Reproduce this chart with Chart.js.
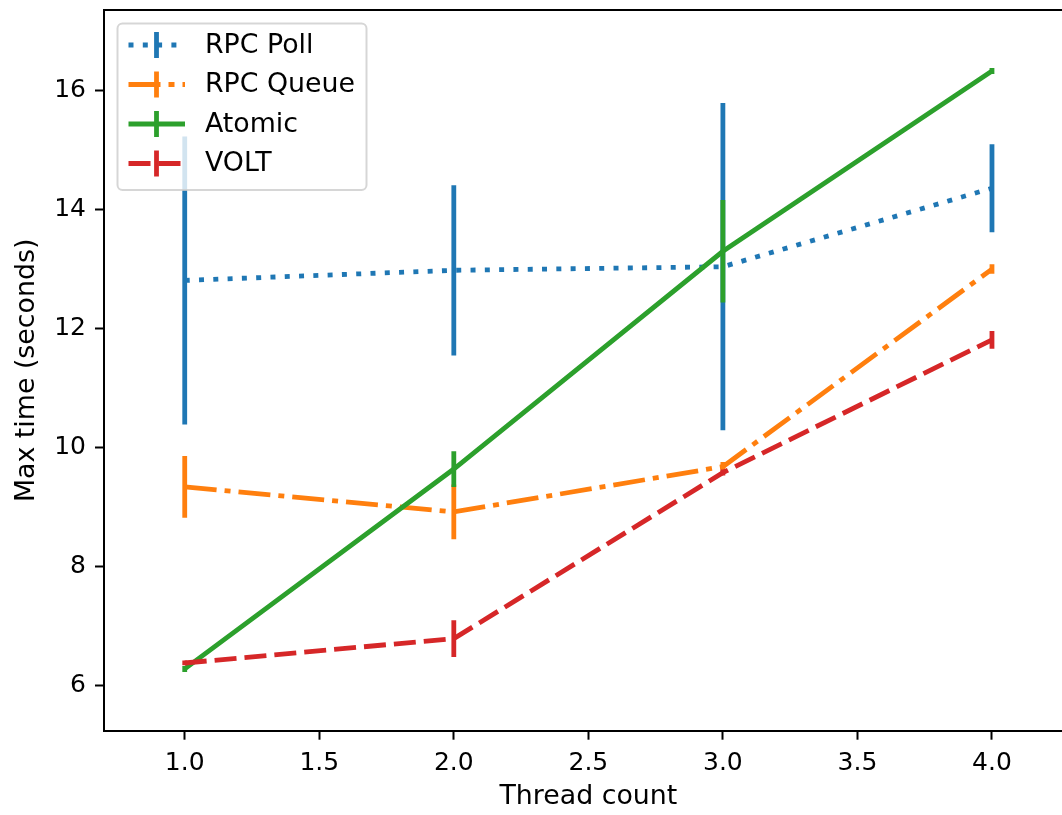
<!DOCTYPE html>
<html>
<head>
<meta charset="utf-8">
<script src="https://cdn.jsdelivr.net/npm/chart.js@4.4.0/dist/chart.umd.min.js"></script>
<style>
  html, body { margin: 0; padding: 0; overflow: hidden; background: #fff; }
  canvas { display: block; }
</style>
</head>
<body>
<canvas id="chart" width="1075" height="815"></canvas>
<script>
// values
const threadCounts = [1, 2, 3, 4];
const seriesNames = ['RPC Poll', 'RPC Queue', 'Atomic', 'VOLT'];

const pollTimes = [12.8, 12.97, 13.03, 14.35];
const pollErrors = [2.42, 1.43, 2.75, 0.74];
const queueTimes = [9.33, 8.91, 9.67, 12.99];
const queueErrors = [0.52, 0.46, 0.08, 0.08];
const atomicTimes = [6.27, 9.63, 13.29, 16.32];
const atomicErrors = [0.05, 0.3, 0.86, 0.05];
const voltTimes = [6.37, 6.78, 9.57, 11.8];
const voltErrors = [0.04, 0.31, 0.05, 0.15];

const xTicks = [1.0, 1.5, 2.0, 2.5, 3.0, 3.5, 4.0];
const yTicks = [6, 8, 10, 12, 14, 16];

const colors = ['#1f77b4', '#ff7f0e', '#2ca02c', '#d62728'];
const dashes = [[5, 9.3], [32, 8, 6, 8], [], [22, 8]];
const LW = 4.8;

Chart.defaults.font.family = "'DejaVu Sans', sans-serif";
Chart.defaults.color = '#000';

function makeSeries(idx, times, errs) {
  return {
    label: seriesNames[idx],
    data: threadCounts.map((t, i) => ({ x: t, y: times[i] })),
    errors: errs,
    borderColor: colors[idx],
    backgroundColor: colors[idx],
    borderWidth: LW,
    borderDash: dashes[idx],
    borderCapStyle: 'butt',
    pointRadius: 0,
    tension: 0,
    fill: false,
    order: 3 - idx // matplotlib draws later series on top
  };
}

const errorBarPlugin = {
  id: 'errorBars',
  afterDatasetDraw(chart, args) {
    const ds = chart.data.datasets[args.index];
    if (!ds.errors) return;
    const { ctx, chartArea, scales: { x, y } } = chart;
    ctx.save();
    ctx.beginPath();
    ctx.rect(chartArea.left, chartArea.top, chartArea.right - chartArea.left, chartArea.bottom - chartArea.top);
    ctx.clip();
    ctx.strokeStyle = ds.borderColor;
    ctx.lineWidth = LW;
    ctx.setLineDash([]);
    ctx.lineCap = 'butt';
    ds.data.forEach((p, i) => {
      const px = x.getPixelForValue(p.x);
      ctx.beginPath();
      ctx.moveTo(px, y.getPixelForValue(p.y - ds.errors[i]));
      ctx.lineTo(px, y.getPixelForValue(p.y + ds.errors[i]));
      ctx.stroke();
    });
    ctx.restore();
  }
};

// top spine + matplotlib style legend box
const framePlugin = {
  id: 'frame',
  afterDraw(chart) {
    const { ctx, chartArea } = chart;
    ctx.save();
    ctx.strokeStyle = '#000';
    ctx.lineWidth = 2;
    ctx.beginPath();
    ctx.moveTo(chartArea.left - 1, chartArea.top);
    ctx.lineTo(chartArea.right + 1, chartArea.top);
    ctx.stroke();

    const bx = 117.5, by = 23.5, bw = 249, bh = 166.5, r = 5;
    ctx.beginPath();
    ctx.moveTo(bx + r, by);
    ctx.arcTo(bx + bw, by, bx + bw, by + bh, r);
    ctx.arcTo(bx + bw, by + bh, bx, by + bh, r);
    ctx.arcTo(bx, by + bh, bx, by, r);
    ctx.arcTo(bx, by, bx + bw, by, r);
    ctx.closePath();
    ctx.fillStyle = 'rgba(255,255,255,0.8)';
    ctx.fill();
    ctx.strokeStyle = 'rgba(204,204,204,0.8)';
    ctx.lineWidth = 2;
    ctx.stroke();

    const rows = [45, 84.5, 124, 163.5];
    ctx.font = "26.8px 'DejaVu Sans'";
    ctx.textBaseline = 'middle';
    ctx.textAlign = 'left';
    chart.data.datasets.forEach((ds, i) => {
      const yy = rows[i];
      ctx.strokeStyle = ds.borderColor;
      ctx.lineWidth = LW;
      ctx.lineCap = 'butt';
      ctx.setLineDash(ds.borderDash);
      ctx.beginPath();
      ctx.moveTo(128.5, yy);
      ctx.lineTo(185, yy);
      ctx.stroke();
      ctx.setLineDash([]);
      ctx.beginPath();
      ctx.moveTo(156.5, yy - 13);
      ctx.lineTo(156.5, yy + 13);
      ctx.stroke();
      ctx.fillStyle = '#000';
      ctx.fillText(ds.label, 205, yy + 1);
    });
    ctx.restore();
  }
};

function noEdgePadding(s) {
  s.paddingTop = 0;
  s.paddingBottom = 0;
  s.paddingLeft = 0;
  s.paddingRight = 0;
}

new Chart(document.getElementById('chart'), {
  type: 'line',
  data: {
    datasets: [
      makeSeries(0, pollTimes, pollErrors),
      makeSeries(1, queueTimes, queueErrors),
      makeSeries(2, atomicTimes, atomicErrors),
      makeSeries(3, voltTimes, voltErrors)
    ]
  },
  options: {
    responsive: false,
    animation: false,
    layout: { padding: { top: 10, right: 2.3, left: 0, bottom: 0 } },
    plugins: { legend: { display: false }, tooltip: { enabled: false } },
    scales: {
      x: {
        type: 'linear',
        min: 0.7,
        max: 4.3,
        afterBuildTicks: s => { s.ticks = xTicks.map(v => ({ value: v })); },
        afterFit: s => { s.height = 84.3; noEdgePadding(s); },
        grid: { drawOnChartArea: false, drawTicks: true, tickLength: 9, tickWidth: 2, tickColor: '#000' },
        border: { display: true, color: '#000', width: 2 },
        ticks: { font: { size: 25 }, color: '#000', padding: 9, maxRotation: 0, callback: v => v.toFixed(1) },
        title: { display: true, text: 'Thread count', font: { size: 26.8 }, color: '#000', padding: { top: 0, bottom: 2 } }
      },
      y: {
        type: 'linear',
        min: 5.232,
        max: 17.345,
        afterBuildTicks: s => { s.ticks = yTicks.map(v => ({ value: v })); },
        afterFit: s => { s.width = 104; noEdgePadding(s); },
        grid: { drawOnChartArea: false, drawTicks: true, tickLength: 9, tickWidth: 2, tickColor: '#000' },
        border: { display: true, color: '#000', width: 2 },
        ticks: { font: { size: 25 }, color: '#000', padding: 9, callback: v => String(v) },
        title: { display: true, text: 'Max time (seconds)', font: { size: 26.8 }, color: '#000', padding: { top: 11, bottom: 0 } }
      }
    }
  },
  plugins: [errorBarPlugin, framePlugin]
});
</script>
</body>
</html>
